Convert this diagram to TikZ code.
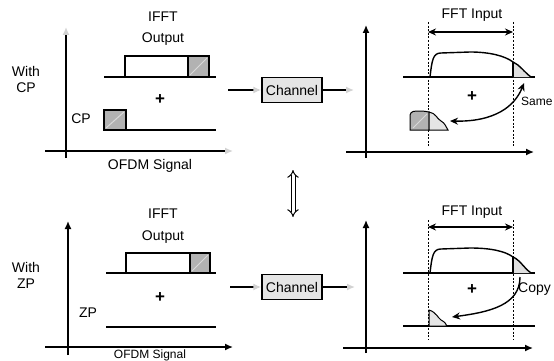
\documentclass[tikz,border=0pt]{standalone}
\usepackage{fontspec}
\setmainfont{Liberation Sans}
\usetikzlibrary{arrows.meta, calc, positioning}

\tikzset{
  every node/.style={font=\fontsize{14}{16}\selectfont, inner sep=0pt},
  axis/.style={line width=1.4pt, -{Latex[length=8pt,width=7pt]}},
  faint/.style={line width=1.4pt, -{Latex[length=8pt,width=7pt,color=gray!35]}},
  level/.style={line width=1.4pt},
  cut/.style={line width=1pt, dash pattern=on 2pt off 1.6pt},
  chanbox/.style={draw, line width=1.4pt, fill=gray!20, minimum width=60pt, minimum height=25pt},
  hatch/.style={draw, line width=1.4pt, fill=gray!60},
  sum/.style={font=\fontsize{17}{17}\bfseries},
  span/.style={line width=1.4pt, {Stealth[length=8pt,width=7pt]}-{Stealth[length=8pt,width=7pt]}},
  copyarc/.style={line width=1.4pt, -{Stealth[length=8pt,width=7pt]}},
}

\begin{document}
\begin{tikzpicture}[x=1pt, y=-1pt]
        \useasboundingbox (0,0) rectangle (554,361);

        % Top left: transmitter with CP
        \draw[faint] (66,158) -- (66,27);
        \draw[faint] (45,151) -- (233,151);
        \node[align=center] (withcp) at (26,79) {With\\CP};
        \node (ifftA) at (163,17) {IFFT};
        \node (outpA) at (163,39) {Output};
        \draw[level] (104,77) -- (216,77);
        \draw[level] (125,77) rectangle (209,56);
        \draw[hatch] (188,77) rectangle (209,56);
        \draw[gray!30, line width=1pt] (190,75) -- (207,58);
        \node[sum] (plusA) at (160,100) {+};
        \node (cplbl) at (81,119) {CP};
        \draw[hatch] (104,130) rectangle (126,110);
        \draw[gray!30, line width=1pt] (106,128) -- (124,112);
        \draw[level] (104,130) -- (216,130);
        \node (ofdmA) at (150,166) {OFDM Signal};

        % Channel (top)
        \node[chanbox] (chanA) at (292,90) {Channel};
        \coordinate (inA) at (228,90);
        \coordinate (outA) at (354,90);
        \draw[faint] (inA) -- (chanA.west);
        \draw[faint] (chanA.east) -- (outA);

        % Top right: receiver with CP
        \draw[axis] (366,158) -- (366,25);
        \draw[axis] (346,152) -- (534,152);
        \draw[cut] (428,22) -- (428,146);
        \draw[cut] (513,22) -- (513,146);
        \node (fftA) at (472,15) {FFT Input};
        \coordinate (fa1) at (428,32);
        \coordinate (fa2) at (513,32);
        \draw[span] (fa1) -- (fa2);
        \draw[level] (403,77) -- (535,77);
        \fill[gray!25] (513,62) .. controls (520,65) and (524,72) .. (531,77) -- (513,77) -- cycle;
        \draw[line width=1.4pt] (430,77) .. controls (432,60) and (433,53) .. (441,53)
              -- (470,52) .. controls (490,52) and (505,56) .. (513,62)
              .. controls (520,65) and (524,72) .. (531,77);
        \draw[line width=1.4pt] (513,62) -- (513,77);
        \draw[hatch, line width=1pt] (410,130) -- (410,115) .. controls (411,111) and (414,111) .. (420,111)
              .. controls (425,111) and (428,112) .. (429,112) -- (429,130) -- cycle;
        \draw[gray!30, line width=1pt] (413,128) -- (427,114);
        \draw[fill=gray!20, line width=1pt] (429,130) -- (429,112) .. controls (436,113) and (437,119) .. (441,121)
              .. controls (445,123) and (446,127) .. (448,130) -- cycle;
        \node[sum] (plusB) at (472,97) {+};
        \coordinate (sm1) at (450,121);
        \coordinate (sm2) at (524,83);
        \draw[span] (sm1) .. controls (495,122) and (515,106) .. (sm2);
        \node[anchor=west, font=\fontsize{12}{14}\selectfont] (same) at (521,101) {Same};

        % Double arrow between the two rows
        \coordinate (dd1) at (293,170);
        \coordinate (dd2) at (293,217);
        \draw[double, double distance=3pt, line width=1pt, {Implies}-{Implies}] (dd1) -- (dd2);

        % Bottom left: transmitter with ZP
        \draw[axis] (68,355) -- (68,221);
        \draw[axis] (45,347) -- (233,347);
        \node[align=center] (withzp) at (26,275) {With\\ZP};
        \node (ifftB) at (163,214) {IFFT};
        \node (outpB) at (163,237) {Output};
        \draw[level] (106,273) -- (216,273);
        \draw[level] (126,273) rectangle (210,253);
        \draw[hatch] (190,273) rectangle (210,253);
        \draw[gray!30, line width=1pt] (192,271) -- (208,255);
        \node[sum] (plusC) at (160,298) {+};
        \node (zplbl) at (88,313) {ZP};
        \draw[level] (106,327) -- (216,327);
        \node[anchor=base, font=\fontsize{12}{14}\selectfont] (ofdmB) at (150,358.5) {OFDM Signal};

        % Channel (bottom)
        \node[chanbox] (chanB) at (292,287) {Channel};
        \coordinate (inB) at (230,287);
        \coordinate (outB) at (355,287);
        \draw[faint] (inB) -- (chanB.west);
        \draw[faint] (chanB.east) -- (outB);

        % Bottom right: receiver with ZP
        \draw[axis] (366,353) -- (366,220);
        \draw[axis] (343,348) -- (533,348);
        \draw[cut] (428,220) -- (428,340);
        \draw[cut] (513,220) -- (513,340);
        \node (fftB) at (472,212) {FFT Input};
        \coordinate (fb1) at (428,227);
        \coordinate (fb2) at (513,227);
        \draw[span] (fb1) -- (fb2);
        \draw[level] (403,273) -- (535,273);
        \fill[gray!25] (513,257) .. controls (520,260) and (524,268) .. (531,273) -- (513,273) -- cycle;
        \draw[line width=1.4pt] (430,273) .. controls (432,256) and (433,249) .. (441,249)
              -- (470,248) .. controls (490,248) and (505,251) .. (513,257)
              .. controls (520,260) and (524,268) .. (531,273);
        \draw[line width=1.4pt] (513,257) -- (513,273);
        \draw[level] (403,326) -- (535,326);
        \draw[fill=gray!20, line width=1pt] (429,326) -- (429,310) .. controls (436,312) and (438,318) .. (441,320)
              .. controls (445,322) and (446,324) .. (447,326) -- cycle;
        \node[sum] (plusD) at (472,290) {+};
        \coordinate (cp1) at (520,277);
        \coordinate (cp2) at (452,317);
        \draw[copyarc] (cp1) .. controls (520,305) and (490,312) .. (cp2);
        \node[anchor=west] (copy) at (518,289) {Copy};
\end{tikzpicture}
\end{document}
